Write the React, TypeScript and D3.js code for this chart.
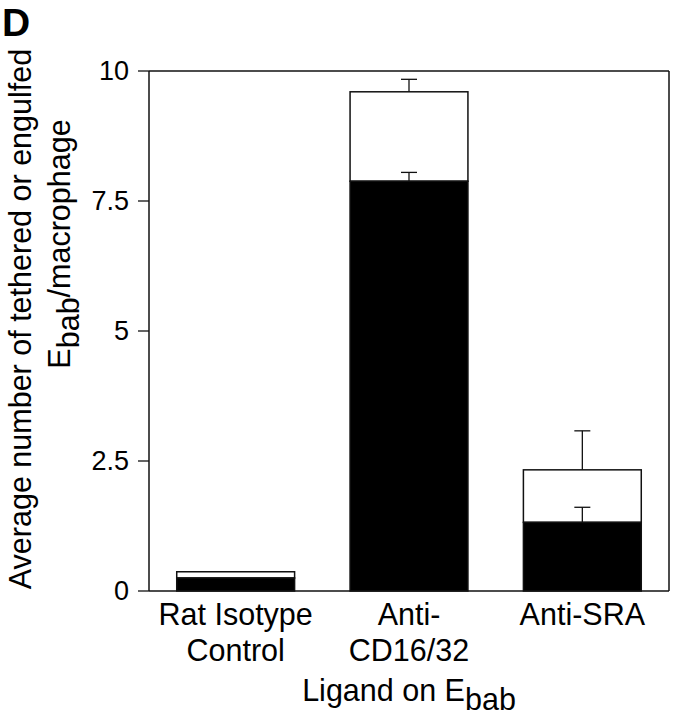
import React from "react";
import * as d3 from "d3";

const categories = ["Rat Isotype|Control", "Anti-|CD16/32", "Anti-SRA"];
const engulfedValues = [0.25, 7.88, 1.32];
const totalValues = [0.37, 9.6, 2.33];
const engulfedErrors = [0, 0.17, 0.29];
const totalErrors = [0, 0.24, 0.75];
const yTicks = [0, 2.5, 5, 7.5, 10];
const yTickLabels = ["0", "2.5", "5", "7.5", "10"];

const W = 673;
const H = 720;
const left = 149;
const right = 669;
const top = 71;
const bottom = 591;
const FONT = "'Liberation Sans', Arial, Helvetica, sans-serif";

export default function App() {
  const x = d3
    .scaleBand<number>()
    .domain(d3.range(categories.length))
    .range([left, right])
    .paddingInner(0.32)
    .paddingOuter(0.16);
  const y = d3.scaleLinear().domain([0, 10]).range([bottom, top]);
  const bw = x.bandwidth();
  const ink = "#111";
  const fs = 30.5;
  const tfs = 27;

  return (
    <svg
      width={W}
      height={H}
      style={{ position: "absolute", left: 0, top: 0, background: "#fff" }}
      fontFamily={FONT}
    >
      <rect x={0} y={0} width={W} height={H} fill="#fff" />
      <text x={2} y={36} fontSize={39} fontWeight="bold" fill="#000">
        D
      </text>

      {/* bars */}
      {categories.map((c, i) => {
        const x0 = x(i)!;
        const cx = x0 + bw / 2;
        const yT = y(totalValues[i]);
        const yE = y(engulfedValues[i]);
        return (
          <g key={c}>
            <rect x={x0} y={yT} width={bw} height={yE - yT} fill="#fff" stroke={ink} strokeWidth={1.5} />
            <rect x={x0} y={yE} width={bw} height={y(0) - yE} fill="#000" stroke={ink} strokeWidth={1.5} />
            {totalErrors[i] > 0 && (
              <g stroke={ink} strokeWidth={1.3}>
                <line x1={cx} x2={cx} y1={yT} y2={y(totalValues[i] + totalErrors[i])} />
                <line x1={cx - 8} x2={cx + 8} y1={y(totalValues[i] + totalErrors[i])} y2={y(totalValues[i] + totalErrors[i])} />
              </g>
            )}
            {engulfedErrors[i] > 0 && (
              <g stroke={ink} strokeWidth={1.3}>
                <line x1={cx} x2={cx} y1={yE} y2={y(engulfedValues[i] + engulfedErrors[i])} />
                <line x1={cx - 8} x2={cx + 8} y1={y(engulfedValues[i] + engulfedErrors[i])} y2={y(engulfedValues[i] + engulfedErrors[i])} />
              </g>
            )}
          </g>
        );
      })}

      {/* frame */}
      <g stroke={ink} strokeWidth={1.5} fill="none">
        <line x1={left} x2={left} y1={top} y2={bottom} />
        <line x1={left} x2={right} y1={top} y2={top} />
        <line x1={right} x2={right} y1={top} y2={bottom} />
        <line x1={left} x2={right} y1={bottom} y2={bottom} />
      </g>

      {/* y ticks */}
      {yTicks.map((t, i) => (
        <g key={t}>
          <line x1={138} x2={left} y1={y(t)} y2={y(t)} stroke={ink} strokeWidth={1.3} />
          <text x={129} y={y(t)} dy="0.35em" textAnchor="end" fontSize={tfs} fill="#000">
            {yTickLabels[i]}
          </text>
        </g>
      ))}

      {/* x labels */}
      {categories.map((c, i) => {
        const cx = x(i)! + bw / 2;
        return (
          <text key={c} x={cx} y={625} textAnchor="middle" fontSize={fs} fill="#000">
            {c.split("|").map((ln, k) => (
              <tspan key={k} x={cx} dy={k === 0 ? 0 : 36}>
                {ln}
              </tspan>
            ))}
          </text>
        );
      })}

      <text x={(left + right) / 2} y={701} textAnchor="middle" fontSize={fs} fill="#000">
        Ligand on E<tspan dy={9}>bab</tspan>
      </text>

      {/* y title */}
      <g transform={`translate(31, 319) rotate(-90)`}>
        <text x={0} y={0} textAnchor="middle" fontSize={fs} fill="#000">
          Average number of tethered or engulfed
        </text>
      </g>
      <g transform={`translate(70, 244) rotate(-90)`}>
        <text x={0} y={0} textAnchor="middle" fontSize={fs} fill="#000">
          E<tspan dy={9}>bab</tspan>
          <tspan dy={-9}>/macrophage</tspan>
        </text>
      </g>
    </svg>
  );
}
